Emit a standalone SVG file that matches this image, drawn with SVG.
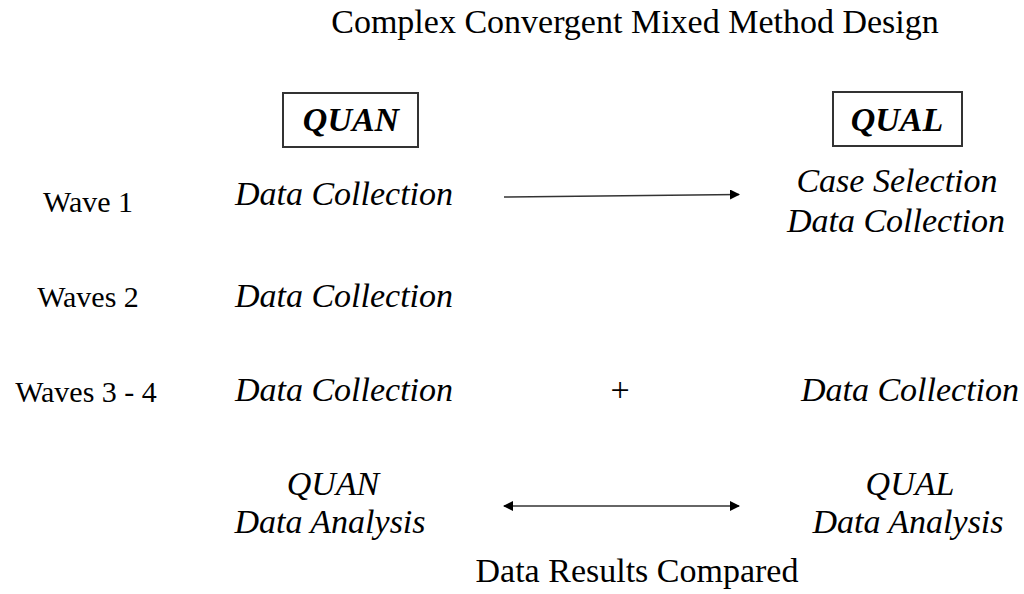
<svg xmlns="http://www.w3.org/2000/svg" width="1024" height="594" viewBox="0 0 1024 594">
<style>
text{font-family:"Liberation Serif","Times New Roman",serif;fill:#000;text-anchor:middle}
.t{font-size:34px}
.w{font-size:30px}
.i{font-size:34px;font-style:italic}
.h{font-size:34px;font-style:italic;font-weight:bold}
.box{fill:#fff;stroke:#333;stroke-width:2}
.conn{stroke:#333;stroke-width:1.6;fill:none}
</style>
<defs>
<marker id="ah" viewBox="0 0 10 10" refX="9" refY="5" markerWidth="10" markerHeight="10" markerUnits="userSpaceOnUse" orient="auto-start-reverse">
<path d="M0,0 L10,5 L0,10 z" fill="#000"/>
</marker>
</defs>
<rect width="1024" height="594" fill="#fff"/>
<g id="title"><text class="t" x="635" y="33">Complex Convergent Mixed Method Design</text></g>
<g id="quan-head"><rect class="box" x="283" y="93" width="135" height="54"/><text class="h" x="351" y="131">QUAN</text></g>
<g id="qual-head"><rect class="box" x="833" y="92" width="129" height="54"/><text class="h" x="897" y="131">QUAL</text></g>
<g id="wave1"><text class="w" x="88" y="212">Wave 1</text></g>
<g id="wave2"><text class="w" x="88" y="307">Waves 2</text></g>
<g id="wave34"><text class="w" x="86" y="402">Waves 3 - 4</text></g>
<g id="quan-w1"><text class="i" x="344" y="205">Data Collection</text></g>
<g id="qual-w1"><text class="i" x="897" y="192">Case Selection</text><text class="i" x="896" y="232">Data Collection</text></g>
<g id="quan-w2"><text class="i" x="344" y="307">Data Collection</text></g>
<g id="quan-w34"><text class="i" x="344" y="401">Data Collection</text></g>
<g id="plus"><text class="t" x="620" y="401">+</text></g>
<g id="qual-w34"><text class="i" x="910" y="401">Data Collection</text></g>
<g id="quan-analysis"><text class="i" x="333" y="495">QUAN</text><text class="i" x="330" y="533">Data Analysis</text></g>
<g id="qual-analysis"><text class="i" x="910" y="495">QUAL</text><text class="i" x="908" y="533">Data Analysis</text></g>
<g id="compared"><text class="t" x="637" y="582">Data Results Compared</text></g>
<g id="connectors">
<line class="conn" x1="504" y1="197" x2="739" y2="194.5" marker-end="url(#ah)"/>
<line class="conn" x1="504" y1="506" x2="739" y2="506" marker-start="url(#ah)" marker-end="url(#ah)"/>
</g>
</svg>
